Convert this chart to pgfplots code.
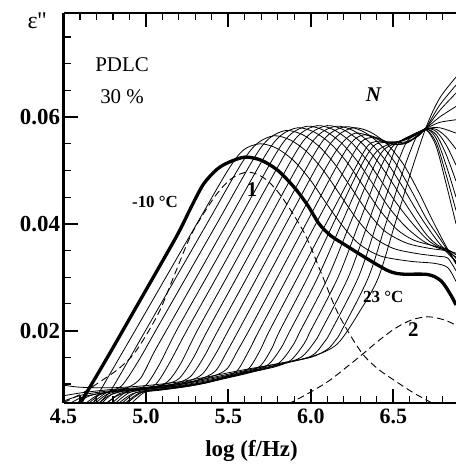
\documentclass[border=0pt]{standalone}
\usepackage{fontspec}
\setmainfont{Liberation Serif}
\usepackage{pgfplots}
\pgfplotsset{compat=1.18}
\begin{document}
\begin{tikzpicture}[x=1bp,y=1bp]
\begin{axis}[
  at={(63.5bp,61.3bp)}, anchor=south west,
  width=392.5bp, height=389.7bp, scale only axis,
  xmin=4.5, xmax=6.88, ymin=0.0065, ymax=0.0795,
  axis x line=box, axis y line=left,
  axis line style={line width=2.2bp,-},
  xtick={4.5,5.0,5.5,6.0,6.5}, xticklabels={4.5,5.0,5.5,6.0,6.5},
  minor xtick={4.6,4.7,4.8,4.9,5.1,5.2,5.3,5.4,5.6,5.7,5.8,5.9,6.1,6.2,6.3,6.4,6.6,6.7,6.8},
  ytick={0.02,0.04,0.06}, yticklabels={0.02,0.04,0.06},
  minor ytick={0.01,0.015,0.025,0.03,0.035,0.045,0.05,0.055,0.065,0.07,0.075},
  scaled y ticks=false, scaled x ticks=false,
  tick align=inside, major tick length=14bp, minor tick length=7bp,
  major tick style={line width=2bp,black}, minor tick style={line width=1.1bp,black},
  xticklabel style={font=\bfseries\fontsize{22}{22}\selectfont, yshift=-3bp},
  yticklabel style={font=\bfseries\fontsize{23}{23}\selectfont},
  every axis plot/.append style={black},
  thin/.style={line width=0.8bp, smooth, tension=0.5},
  dsh/.style={line width=0.9bp, dash pattern=on 7bp off 4bp, smooth, tension=0.5},
]
% k=1..22
\addplot[thin] coordinates {(4.672,0.006)(4.746,0.010)(4.934,0.020)(5.121,0.030)(5.308,0.040)(5.496,0.050)(5.59,0.0538)(5.69,0.0550)(5.79,0.0542)(5.89,0.0520)(5.99,0.0485)(6.09,0.0440)(6.19,0.0397)(6.29,0.0363)(6.42,0.0340)(6.60,0.0330)(6.75,0.0326)(6.83,0.0318)(6.88,0.0292)};
\addplot[thin] coordinates {(4.70,0.006)(4.76,0.0078)(4.811,0.0100)(4.997,0.0200)(5.183,0.0300)(5.369,0.0400)(5.583,0.0515)(5.676,0.0551)(5.776,0.0565)(5.876,0.0557)(5.976,0.0535)(6.076,0.0500)(6.176,0.0455)(6.276,0.0410)(6.376,0.0376)(6.50,0.0354)(6.65,0.0344)(6.78,0.0339)(6.83,0.0336)(6.88,0.0312)};
\addplot[thin] coordinates {(4.66,0.006)(4.75,0.0082)(4.85,0.0096)(4.95,0.0141)(5.059,0.0200)(5.244,0.0300)(5.429,0.0400)(5.659,0.0525)(5.751,0.0561)(5.85,0.0575)(5.95,0.0567)(6.05,0.0545)(6.15,0.0510)(6.25,0.0465)(6.35,0.0420)(6.45,0.0386)(6.58,0.0364)(6.72,0.0354)(6.83,0.0348)(6.88,0.0325)};
\addplot[thin] coordinates {(4.64,0.006)(4.72,0.0080)(4.82,0.0088)(4.90,0.0095)(4.97,0.0112)(5.05,0.0160)(5.123,0.0200)(5.306,0.0300)(5.489,0.0400)(5.727,0.0530)(5.819,0.0566)(5.92,0.0580)(6.02,0.0572)(6.12,0.0550)(6.22,0.0515)(6.32,0.0470)(6.42,0.0425)(6.52,0.0390)(6.62,0.0370)(6.74,0.0359)(6.83,0.0351)(6.88,0.0335)};
\addplot[thin] coordinates {(4.62,0.006)(4.70,0.0078)(4.80,0.0087)(4.92,0.0090)(5.00,0.0098)(5.08,0.0136)(5.185,0.0200)(5.367,0.0300)(5.549,0.0400)(5.791,0.0533)(5.882,0.0569)(5.98,0.0583)(6.08,0.0575)(6.18,0.0553)(6.28,0.0518)(6.38,0.0473)(6.48,0.0428)(6.58,0.0393)(6.68,0.0368)(6.76,0.0356)(6.83,0.0350)(6.88,0.0345)};
\addplot[thin] coordinates {(4.68,0.006)(4.76,0.0080)(4.86,0.0088)(4.98,0.0092)(5.06,0.0100)(5.14,0.0138)(5.247,0.0200)(5.428,0.0300)(5.608,0.0400)(5.850,0.0534)(5.941,0.0570)(6.04,0.0584)(6.14,0.0576)(6.24,0.0554)(6.34,0.0519)(6.44,0.0474)(6.54,0.0430)(6.64,0.0392)(6.72,0.0367)(6.83,0.0347)(6.88,0.0338)};
\addplot[thin] coordinates {(4.72,0.006)(4.80,0.0082)(4.92,0.0090)(5.04,0.0094)(5.13,0.0104)(5.21,0.0138)(5.311,0.0200)(5.49,0.0300)(5.669,0.0400)(5.909,0.0534)(6.00,0.0570)(6.10,0.0584)(6.20,0.0576)(6.30,0.0554)(6.40,0.0519)(6.50,0.0474)(6.60,0.0425)(6.70,0.0380)(6.77,0.0360)(6.83,0.0352)(6.88,0.0342)};
\addplot[thin] coordinates {(4.70,0.006)(4.78,0.0079)(4.90,0.0089)(5.02,0.0093)(5.12,0.0100)(5.20,0.0110)(5.28,0.0145)(5.373,0.0200)(5.551,0.0300)(5.729,0.0400)(5.966,0.0533)(6.055,0.0569)(6.155,0.0583)(6.255,0.0575)(6.355,0.0553)(6.455,0.0518)(6.555,0.0470)(6.655,0.0418)(6.75,0.0375)(6.83,0.0345)(6.88,0.0330)};
\addplot[thin] coordinates {(4.75,0.006)(4.84,0.0082)(4.96,0.0090)(5.08,0.0095)(5.18,0.0101)(5.27,0.0114)(5.35,0.0150)(5.436,0.0200)(5.613,0.0300)(5.79,0.0400)(6.023,0.0532)(6.111,0.0568)(6.21,0.0582)(6.31,0.0574)(6.41,0.0552)(6.51,0.0515)(6.61,0.0462)(6.70,0.0410)(6.77,0.0378)(6.83,0.0350)(6.88,0.0328)};
\addplot[thin] coordinates {(4.78,0.006)(4.88,0.0085)(5.00,0.0092)(5.12,0.0097)(5.24,0.0104)(5.34,0.0118)(5.42,0.0155)(5.499,0.0200)(5.674,0.0300)(5.849,0.0400)(6.077,0.0530)(6.165,0.0566)(6.26,0.0580)(6.36,0.0572)(6.46,0.0550)(6.56,0.0512)(6.65,0.0462)(6.74,0.0405)(6.83,0.0352)(6.88,0.0325)};
\addplot[thin] coordinates {(4.74,0.006)(4.84,0.0080)(4.96,0.0088)(5.10,0.0094)(5.22,0.0100)(5.32,0.0108)(5.42,0.0124)(5.49,0.0160)(5.561,0.0200)(5.735,0.0300)(5.909,0.0400)(6.10,0.0510)(6.19,0.0552)(6.27,0.0570)(6.37,0.0563)(6.47,0.0550)(6.57,0.0551)(6.65,0.0566)(6.70,0.0576)(6.76,0.0545)(6.82,0.0475)(6.88,0.0400)};
\addplot[thin] coordinates {(4.80,0.006)(4.90,0.0084)(5.02,0.0091)(5.16,0.0097)(5.28,0.0104)(5.40,0.0114)(5.49,0.0128)(5.56,0.0165)(5.624,0.0200)(5.797,0.0300)(5.970,0.0400)(6.185,0.0524)(6.26,0.0557)(6.33,0.0567)(6.42,0.0559)(6.50,0.0549)(6.58,0.0551)(6.65,0.0565)(6.70,0.0576)(6.76,0.0552)(6.82,0.0492)(6.88,0.0425)};
\addplot[thin] coordinates {(4.84,0.006)(4.94,0.0084)(5.06,0.0090)(5.20,0.0095)(5.34,0.0102)(5.46,0.0112)(5.55,0.0124)(5.62,0.0160)(5.686,0.0200)(5.858,0.0300)(6.030,0.0400)(6.202,0.0500)(6.30,0.0552)(6.38,0.0562)(6.46,0.0553)(6.53,0.0549)(6.61,0.0557)(6.70,0.0577)(6.76,0.0560)(6.82,0.0510)(6.88,0.0450)};
\addplot[thin] coordinates {(4.82,0.006)(4.92,0.0082)(5.06,0.0088)(5.22,0.0094)(5.38,0.0103)(5.52,0.0116)(5.62,0.0128)(5.69,0.0162)(5.749,0.0200)(5.92,0.0300)(6.091,0.0400)(6.261,0.0500)(6.35,0.0548)(6.43,0.0555)(6.50,0.0552)(6.58,0.0554)(6.65,0.0564)(6.70,0.0577)(6.76,0.0567)(6.82,0.0530)(6.88,0.0480)};
\addplot[thin] coordinates {(4.87,0.006)(4.98,0.0085)(5.12,0.0091)(5.28,0.0098)(5.44,0.0108)(5.58,0.0120)(5.69,0.0133)(5.76,0.0165)(5.812,0.0200)(5.981,0.0300)(6.135,0.0400)(6.289,0.0500)(6.38,0.0546)(6.46,0.0553)(6.55,0.0555)(6.63,0.0565)(6.70,0.0578)(6.76,0.0573)(6.82,0.0548)(6.88,0.0510)};
\addplot[thin] coordinates {(4.90,0.006)(5.00,0.0086)(5.14,0.0092)(5.30,0.0099)(5.46,0.0110)(5.62,0.0122)(5.74,0.0136)(5.82,0.0168)(5.874,0.0200)(6.042,0.0300)(6.185,0.0400)(6.328,0.0500)(6.40,0.0536)(6.48,0.0550)(6.57,0.0558)(6.64,0.0568)(6.70,0.0578)(6.76,0.0577)(6.82,0.0563)(6.88,0.0540)};
\addplot[thin] coordinates {(4.86,0.006)(4.96,0.0083)(5.10,0.0089)(5.28,0.0097)(5.46,0.0109)(5.64,0.0122)(5.80,0.0138)(5.89,0.0172)(5.937,0.0200)(6.104,0.0300)(6.237,0.0400)(6.371,0.0500)(6.44,0.0538)(6.52,0.0552)(6.60,0.0563)(6.70,0.0578)(6.78,0.0580)(6.88,0.0570)};
\addplot[thin] coordinates {(4.56,0.006)(4.66,0.0078)(4.80,0.0086)(5.00,0.0091)(5.20,0.0096)(5.40,0.0106)(5.60,0.0120)(5.78,0.0132)(5.88,0.0145)(5.96,0.0176)(5.999,0.0200)(6.165,0.0300)(6.29,0.0400)(6.415,0.0500)(6.49,0.0543)(6.57,0.0560)(6.70,0.0579)(6.78,0.0590)(6.88,0.0595)};
\addplot[thin] coordinates {(4.52,0.006)(4.62,0.0076)(4.78,0.0085)(5.00,0.0090)(5.20,0.0097)(5.40,0.0108)(5.60,0.0121)(5.80,0.0135)(5.94,0.0150)(6.02,0.0178)(6.062,0.0200)(6.227,0.0300)(6.345,0.0400)(6.463,0.0500)(6.53,0.0550)(6.62,0.0567)(6.70,0.0580)(6.78,0.0600)(6.88,0.0620)};
\addplot[thin] coordinates {(4.50,0.0068)(4.62,0.0080)(4.80,0.0088)(5.00,0.0093)(5.20,0.0099)(5.40,0.0110)(5.60,0.0123)(5.80,0.0136)(6.00,0.0152)(6.08,0.0178)(6.124,0.0200)(6.288,0.0300)(6.399,0.0400)(6.51,0.0500)(6.58,0.0553)(6.65,0.0570)(6.70,0.0580)(6.78,0.0612)(6.88,0.0645)};
\addplot[thin] coordinates {(4.50,0.0078)(4.62,0.0084)(4.80,0.0090)(5.00,0.0094)(5.20,0.0101)(5.40,0.0112)(5.60,0.0125)(5.80,0.0138)(6.00,0.0150)(6.10,0.0165)(6.15,0.0182)(6.186,0.0200)(6.349,0.0300)(6.454,0.0400)(6.56,0.0500)(6.64,0.0563)(6.70,0.0581)(6.78,0.0622)(6.88,0.0660)};
\addplot[thin] coordinates {(4.50,0.0098)(4.60,0.0094)(4.80,0.0093)(5.00,0.0097)(5.20,0.0104)(5.40,0.0115)(5.60,0.0127)(5.80,0.0138)(6.00,0.0151)(6.16,0.0175)(6.30,0.0238)(6.41,0.0300)(6.51,0.0400)(6.61,0.0500)(6.70,0.0582)(6.78,0.0635)(6.88,0.0675)};
% dashed components
\addplot[dsh] coordinates {(4.50,0.0065)(4.61,0.0082)(4.73,0.0106)(4.84,0.0130)(4.94,0.0162)(5.075,0.0232)(5.18,0.0310)(5.28,0.0383)(5.42,0.0452)(5.52,0.0485)(5.62,0.0497)(5.72,0.0485)(5.82,0.0452)(5.96,0.0383)(6.06,0.0310)(6.165,0.0232)(6.30,0.0162)(6.40,0.0130)(6.51,0.0106)(6.63,0.0082)(6.75,0.0062)};
\addplot[dsh] coordinates {(5.86,0.0063)(5.91,0.0070)(6.01,0.0087)(6.11,0.0106)(6.21,0.0130)(6.31,0.0155)(6.41,0.0181)(6.51,0.0204)(6.61,0.0220)(6.71,0.0226)(6.81,0.0220)(6.88,0.0210)};
% thick -10 C
\addplot[line width=3.3bp, smooth, tension=0.5] coordinates {(4.60,0.0063)(4.70,0.0115)(4.80,0.0168)(4.90,0.0222)(5.00,0.0276)(5.10,0.0330)(5.20,0.0385)(5.28,0.0435)(5.35,0.0475)(5.43,0.0502)(5.50,0.0515)(5.60,0.0525)(5.70,0.0519)(5.80,0.0500)(5.90,0.0468)(5.98,0.0435)(6.05,0.0400)(6.12,0.0378)(6.20,0.0362)(6.35,0.0333)(6.47,0.0312)(6.55,0.0306)(6.71,0.0305)(6.79,0.0293)(6.85,0.0266)(6.88,0.0248)};
% labels
\node[font=\fontsize{21}{21}\selectfont] at (axis cs:4.855,0.0698) {PDLC};
\node[font=\fontsize{21}{21}\selectfont] at (axis cs:4.855,0.0638) {30 \%};
\node[font=\bfseries\itshape\fontsize{21}{21}\selectfont] at (axis cs:6.379,0.0642) {N};
\node[font=\bfseries\fontsize{17}{17}\selectfont] at (axis cs:5.055,0.0441) {-10 °C};
\node[font=\bfseries\fontsize{17}{17}\selectfont] at (axis cs:6.439,0.0263) {23 °C};
\node[font=\bfseries\fontsize{21}{21}\selectfont] at (axis cs:5.644,0.0464) {1};
\node[font=\bfseries\fontsize{21}{21}\selectfont] at (axis cs:6.621,0.0202) {2};
\end{axis}
\node[font=\fontsize{24}{24}\selectfont] at (37,443) {ε\textquotesingle\textquotesingle};
\node[font=\bfseries\fontsize{23}{23}\selectfont, anchor=base] at (251.5,7) {log (f/Hz)};
\pgfresetboundingbox
\path[use as bounding box] (0,0) rectangle (456,464);
\end{tikzpicture}
\end{document}
